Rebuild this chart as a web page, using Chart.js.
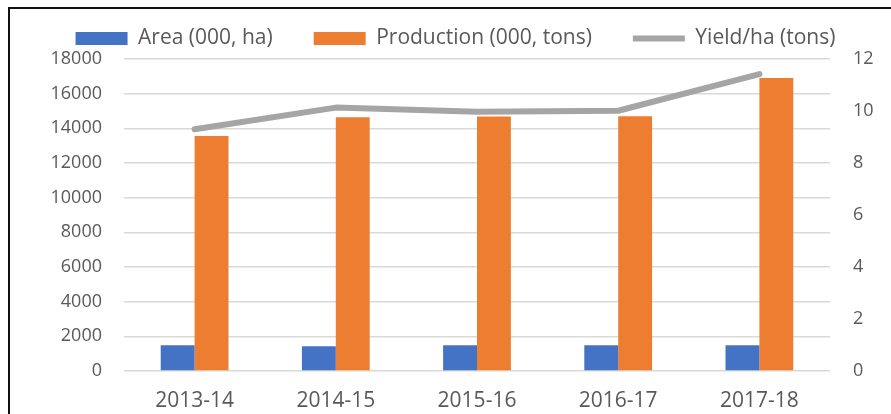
<!DOCTYPE html>
<html>
<head>
<meta charset="utf-8">
<script src="https://cdn.jsdelivr.net/npm/chart.js@4/dist/chart.umd.min.js"></script>
<style>
  html, body { margin: 0; padding: 0; background: #fff; }
  #wrap { position: relative; width: 891px; height: 414px; }
  #frame { position: absolute; left: 8px; top: 7px; right: 0; bottom: -5px;
           border-left: 2px solid #111; border-top: 2px solid #111; pointer-events: none; }
</style>
</head>
<body>
<div id="wrap">
  <canvas id="chart" width="891" height="414"></canvas>
  <div id="frame"></div>
</div>
<script>
var years = ["2013-14", "2014-15", "2015-16", "2016-17", "2017-18"];
var area = [1480, 1425, 1480, 1480, 1480];
var production = [13560, 14640, 14680, 14690, 16900];
var yieldPerHa = [9.3, 10.13, 9.97, 10.01, 11.42];

var textColor = '#595959';
var fontFamily = "'Open Sans', sans-serif";

var ctx = document.getElementById("chart").getContext('2d');
var chart = new Chart(ctx, {
    type: 'bar',
    data: {
        labels: years,
        datasets: [
        {
            type: 'line',
            label: "Yield/ha (tons)",
            data: yieldPerHa,
            yAxisID: 'y1',
            borderColor: '#A5A5A5',
            backgroundColor: '#A5A5A5',
            borderWidth: 6,
            borderCapStyle: 'round',
            borderJoinStyle: 'round',
            pointRadius: 0,
            pointStyle: 'line',
            tension: 0,
            order: 0
        },
        {
            label: "Area (000, ha)",
            data: area,
            backgroundColor: '#4472C4',
            borderWidth: 0,
            pointStyle: 'rect',
            order: 1
        },
        {
            label: "Production (000, tons)",
            data: production,
            backgroundColor: '#ED7D31',
            borderWidth: 0,
            pointStyle: 'rect',
            order: 1
        }
        ]
    },
    options: {
        responsive: false,
        animation: false,
        categoryPercentage: 0.48,
        barPercentage: 1,
        layout: { padding: { left: 20, right: 0, top: -13, bottom: 0 } },
        plugins: {
            tooltip: { enabled: false },
            legend: {
                position: 'top',
                labels: {
                    usePointStyle: true,
                    pointStyleWidth: 52,
                    boxHeight: 13,
                    padding: 41,
                    color: textColor,
                    font: { family: fontFamily, size: 21 },
                    sort: function (a, b) {
                        var rank = [2, 0, 1];
                        return rank[a.datasetIndex] - rank[b.datasetIndex];
                    }
                }
            }
        },
        scales: {
            x: {
                grid: { display: false, drawTicks: false },
                border: { display: false },
                ticks: { color: textColor, font: { family: fontFamily, size: 21 }, padding: 17 },
                afterFit: function (s) { s.height = 43; }
            },
            y: {
                position: 'left',
                min: 0,
                max: 18000,
                ticks: {
                    stepSize: 2000, color: textColor, padding: 22,
                    font: { family: fontFamily, size: 18 },
                    callback: function (v) { return String(v); }
                },
                grid: { color: '#D9D9D9', lineWidth: 1.5, drawTicks: false },
                border: { display: false },
                afterFit: function (s) { s.width = 104; }
            },
            y1: {
                position: 'right',
                min: 0,
                max: 12,
                ticks: { stepSize: 2, color: textColor, padding: 23, font: { family: fontFamily, size: 18 } },
                grid: { display: false, drawTicks: false },
                border: { display: false },
                afterFit: function (s) { s.width = 61; }
            }
        }
    }
});
</script>
</body>
</html>
